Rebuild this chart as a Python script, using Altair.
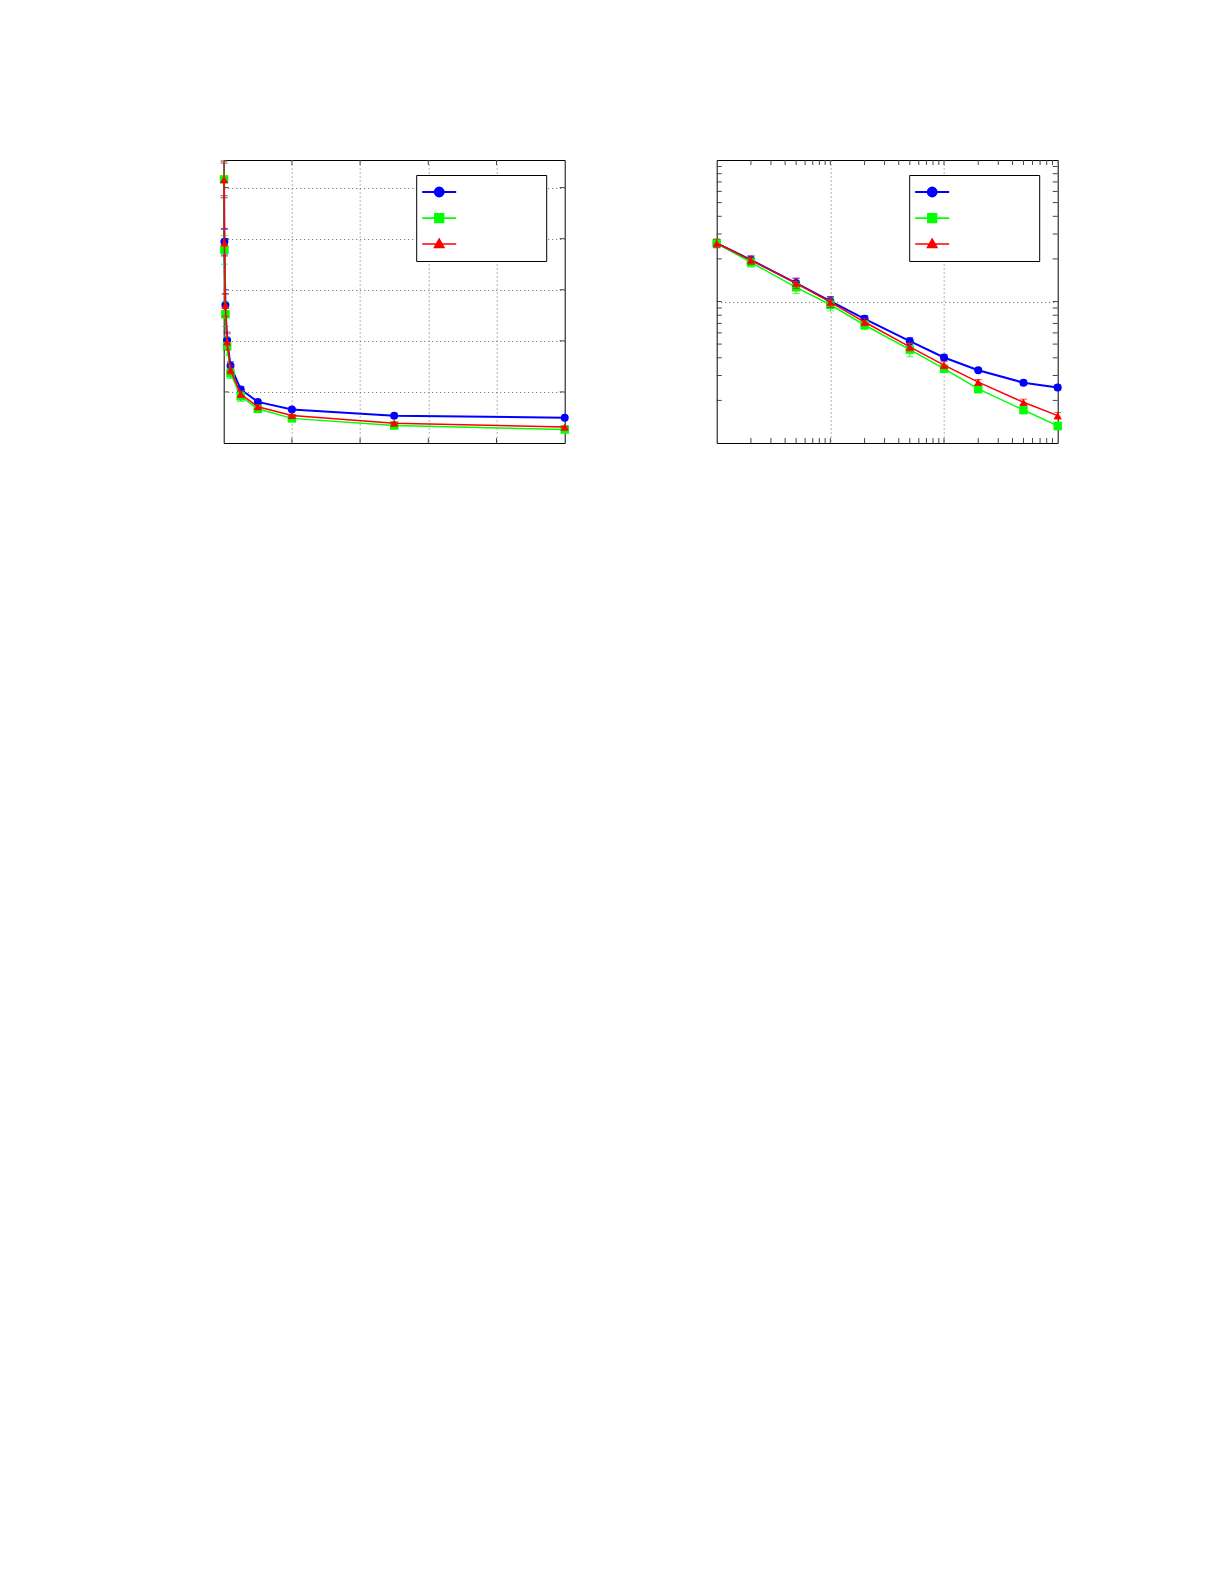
import altair as alt
import pandas as pd

# ---------------- data ----------------
SERIES = ["Series 1", "Series 2", "Series 3"]
COLORS = ["#0000ff", "#00ff00", "#ff0000"]
LINE_W = [2.0, 1.5, 1.5]
MARKERS = ["circle", "square", "triangle-up"]
MARKER_SIZE = [64, 72, 68]

# left panel x (linear) and right panel x (log), same points
x_left = [0.005, 0.01, 0.025, 0.05, 0.1, 0.25, 0.5, 1, 2.5, 5]
x_right = [1, 2, 5, 10, 20, 50, 100, 200, 500, 1000]

y_blue = [25.8, 19.7, 13.5, 10.05, 7.55, 5.24, 4.02, 3.27, 2.67, 2.47]
y_green = [25.8, 18.9, 12.6, 9.48, 6.82, 4.57, 3.35, 2.41, 1.71, 1.32]
y_red = [25.8, 19.6, 13.5, 9.89, 7.16, 4.78, 3.55, 2.69, 1.94, 1.56]

e_blue = [1.6, 1.3, 1.1, 0.8, 0.4, 0.3, 0.2, 0.1, 0.1, 0.1]
e_green = [1.8, 1.4, 1.2, 0.9, 0.5, 0.5, 0.2, 0.15, 0.1, 0.08]
e_red = [1.8, 1.3, 1.1, 0.8, 0.4, 0.3, 0.2, 0.12, 0.1, 0.08]

# axes / grid values
left_xgrid = [1, 2, 3, 4]
left_ygrid = [5, 10, 15, 20, 25]
right_xgrid = [10, 100]
right_ygrid = [10]
right_xticks = [2, 3, 4, 5, 6, 7, 8, 9, 10, 20, 30, 40, 50, 60, 70, 80, 90, 100,
                200, 300, 400, 500, 600, 700, 800, 900]
right_yticks = [2, 3, 4, 5, 6, 7, 8, 9, 10, 20, 30, 40, 50, 60, 70, 80, 90]

W, H = 341, 283
TICK_LEN = 5
TICK_COLOR = "#444444"

rows = []
for s, ys, es in zip(SERIES, [y_blue, y_green, y_red], [e_blue, e_green, e_red]):
    for xl, xr, y, e in zip(x_left, x_right, ys, es):
        rows.append({"series": s, "xl": xl, "xr": xr, "y": y, "lo": y - e, "hi": y + e})
df = pd.DataFrame(rows)

# legend symbols: a short line with the marker in its middle (unit square -1..1)
PATHS = [
    "M-1,0H1M-0.26,0A0.26,0.26 0 1,0 0.26,0A0.26,0.26 0 1,0 -0.26,0Z",
    "M-1,0H1M-0.25,-0.25H0.25V0.25H-0.25Z",
    "M-1,0H1M0,-0.29L0.28,0.2L-0.28,0.2Z",
]
LABEL_BLANK = "'\u2800'"


def legend_def():
    return alt.Legend(
        orient="none", legendX=192.5, legendY=15, title=None,
        strokeColor="black", fillColor="white", padding=4,
        symbolSize=1156, symbolOffset=1, labelExpr=LABEL_BLANK,
        labelFontSize=10, labelOffset=78, rowPadding=0, clipHeight=26,
    )


def panel(xfield, xscale, yscale, xgrid, ygrid, xticks, yticks):
    ax_x = alt.Axis(values=xgrid, grid=True, labels=False, ticks=False,
                    domain=False, title=None)
    ax_y = alt.Axis(values=ygrid, grid=True, labels=False, ticks=False,
                    domain=False, title=None)

    def X(f):
        return alt.X(f"{f}:Q", scale=xscale, axis=ax_x, title=None)

    def Y(f):
        return alt.Y(f"{f}:Q", scale=yscale, axis=ax_y, title=None)

    layers = []
    # inward ticks on the four sides
    tx = pd.DataFrame({"t": xticks})
    ty = pd.DataFrame({"t": yticks})
    bx = alt.Chart(tx).mark_rule(color=TICK_COLOR, strokeWidth=1)
    by = alt.Chart(ty).mark_rule(color=TICK_COLOR, strokeWidth=1)
    layers.append(bx.encode(x=X("t"), y=alt.value(0), y2=alt.value(TICK_LEN)))
    layers.append(bx.encode(x=X("t"), y=alt.value(H), y2=alt.value(H - TICK_LEN)))
    layers.append(by.encode(y=Y("t"), x=alt.value(0), x2=alt.value(TICK_LEN)))
    layers.append(by.encode(y=Y("t"), x=alt.value(W), x2=alt.value(W - TICK_LEN)))

    for s, c, lw, m, sz in zip(SERIES, COLORS, LINE_W, MARKERS, MARKER_SIZE):
        d = df[df["series"] == s]
        base = alt.Chart(d)
        layers.append(base.mark_line(color=c, strokeWidth=lw).encode(x=X(xfield), y=Y("y")))
        layers.append(base.mark_errorbar(color=c, thickness=1,
                                         ticks={"size": 7, "thickness": 1}).encode(
            x=X(xfield), y=Y("lo"), y2="hi:Q"))
        layers.append(base.mark_point(filled=True, shape=m, size=sz, color=c,
                                      opacity=1).encode(x=X(xfield), y=Y("y")))

    # legend carrier layer (no drawn marks, only the legend)
    leg = legend_def()
    layers.append(
        alt.Chart(df).transform_filter("datum.y < 0").mark_point(filled=True, opacity=1).encode(
            fill=alt.Fill("series:N", scale=alt.Scale(domain=SERIES, range=COLORS), legend=leg),
            stroke=alt.Stroke("series:N", scale=alt.Scale(domain=SERIES, range=COLORS), legend=leg),
            shape=alt.Shape("series:N", scale=alt.Scale(domain=SERIES, range=PATHS), legend=leg),
            strokeWidth=alt.StrokeWidth("series:O", scale=alt.Scale(domain=SERIES, range=LINE_W), legend=leg),
        )
    )
    return alt.layer(*layers).properties(width=W, height=H)


left = panel("xl", alt.Scale(domain=[0, 5], nice=False, zero=False),
             alt.Scale(domain=[0, 27.7], nice=False, zero=False),
             left_xgrid, left_ygrid, left_xgrid, left_ygrid)
right = panel("xr", alt.Scale(type="log", domain=[1, 1000], nice=False),
              alt.Scale(type="log", domain=[1, 100], nice=False),
              right_xgrid, right_ygrid, right_xticks, right_yticks)

chart = (
    alt.hconcat(left, right, spacing=142)
    .resolve_scale(fill="independent", stroke="independent", shape="independent",
                   strokeWidth="independent")
    .resolve_legend(fill="independent", stroke="independent", shape="independent",
                    strokeWidth="independent")
    .properties(padding={"left": 210.7, "top": 151, "right": 10, "bottom": 10},
                background="white")
    .configure_view(stroke="black", strokeWidth=1)
    .configure_axis(gridColor="#666666", gridDash=[1, 3], gridWidth=1, gridOpacity=1)
)

chart.save("out.html", embed_options={"renderer": "svg", "actions": False})
